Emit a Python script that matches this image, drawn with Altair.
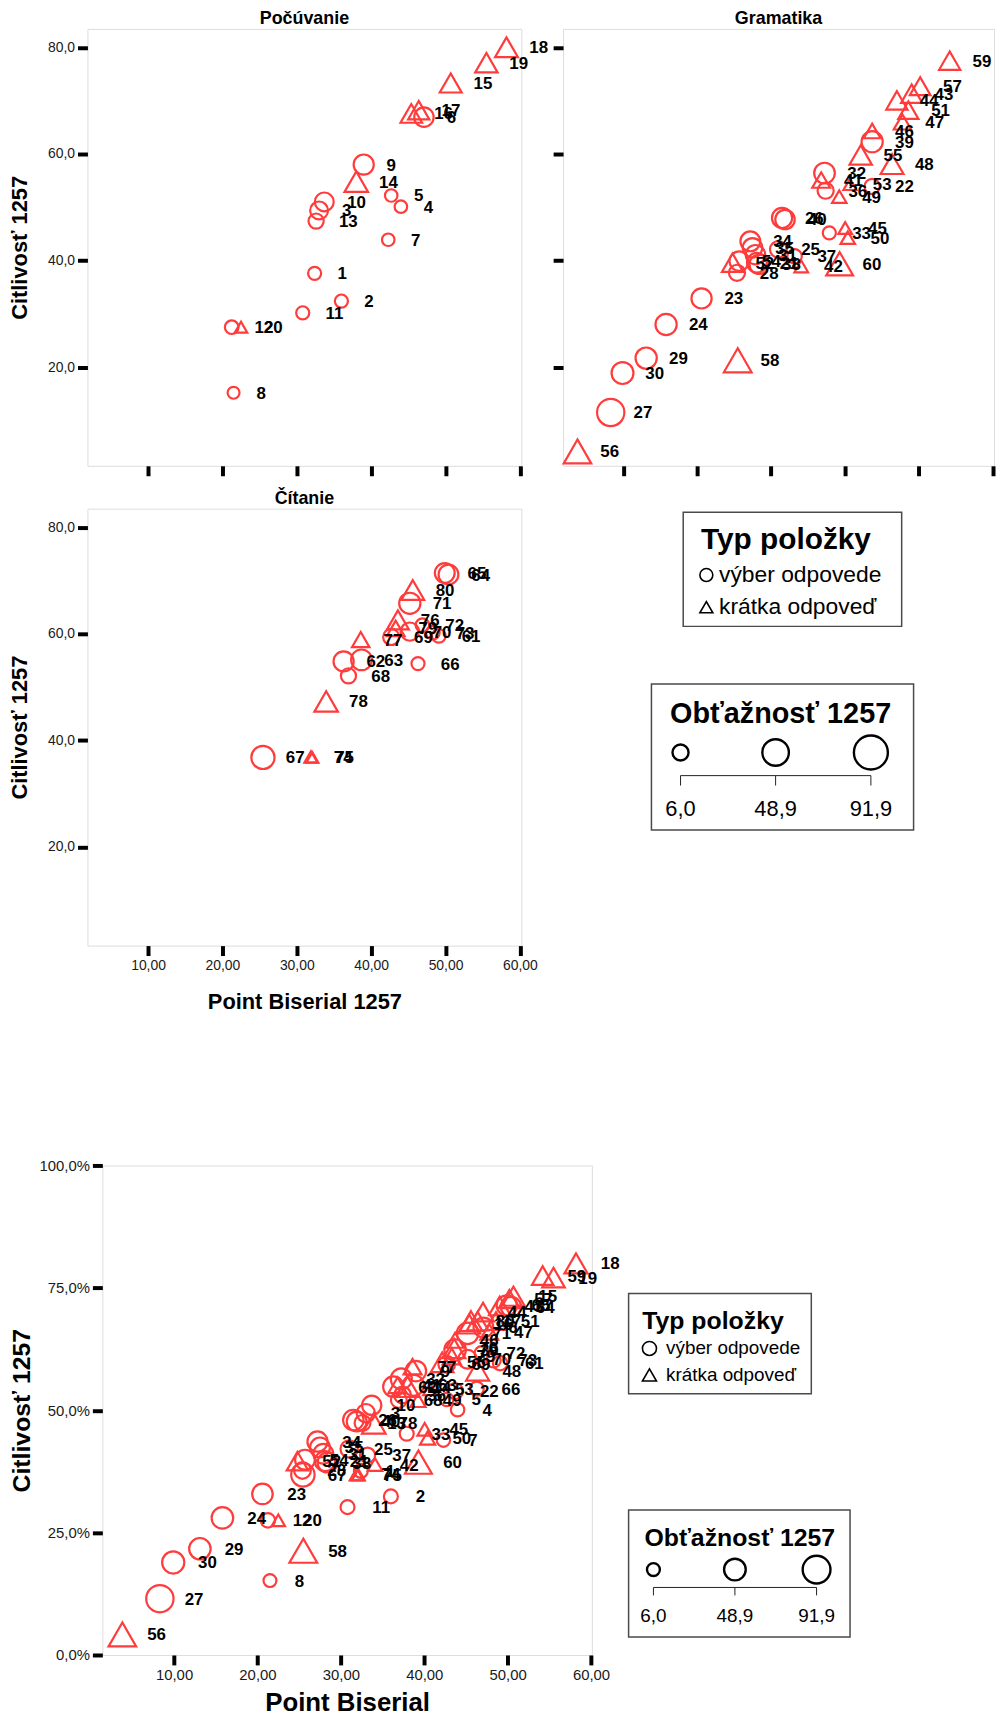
import altair as alt
import pandas as pd

# ---------------- data ----------------
ITEMS = list(range(1, 81))
POINT_BISERIAL = [
    32.4, 36.0, 33.0, 44.0, 42.7, 47.1, 42.3, 21.5, 39.0, 33.7,
    30.8, 21.25, 32.6, 38.0, 50.7, 45.4, 46.4, 58.2, 55.5, 22.5,
    28.1, 43.7, 20.6, 15.8, 31.0, 31.5, 8.3, 25.4, 13.1, 9.9,
    27.9, 37.25, 37.9, 27.2, 27.5, 37.4, 33.2, 28.4, 43.7, 31.9,
    36.8, 34.1, 49.05, 47.05, 40.05, 43.7, 47.8, 46.4, 39.25, 40.4,
    48.6, 24.8, 40.7, 25.7, 42.15, 3.8, 50.2, 25.5, 54.2, 39.3,
    49.1, 36.3, 38.7, 50.4, 49.9, 46.3, 25.45, 36.95, 42.7, 45.2,
    45.2, 46.9, 48.3, 31.9, 32.1, 43.6, 38.6, 33.95, 43.3, 45.6]
CITLIVOST = [
    37.6, 32.4, 49.4, 50.1, 52.2, 66.9, 43.9, 15.2, 58.0, 51.0,
    30.2, 27.5, 47.4, 54.8, 73.3, 67.6, 68.2, 80.0, 77.1, 27.5,
    39.6, 53.9, 32.9, 28.0, 42.1, 48.0, 11.5, 37.7, 21.7, 18.9,
    41.1, 56.4, 45.2, 43.6, 42.4, 53.1, 40.8, 39.3, 62.3, 47.7,
    55.1, 38.9, 71.3, 70.05, 46.1, 64.3, 66.0, 58.1, 52.0, 44.3,
    68.2, 39.6, 54.3, 39.9, 59.8, 4.2, 72.7, 21.3, 77.5, 39.4,
    59.6, 54.8, 55.1, 71.1, 71.4, 54.4, 36.8, 52.1, 59.4, 60.4,
    65.7, 61.6, 60.2, 36.9, 36.8, 62.6, 58.9, 47.3, 61.0, 68.2]
OBTAZNOST = [
    10, 10, 30, 8, 8, 38, 8, 6, 42, 35,
    10, 12, 18, 62, 52, 50, 48, 58, 55, 8,
    40, 18, 42, 48, 25, 42, 88, 22, 48, 52,
    38, 45, 10, 40, 38, 22, 15, 38, 48, 38,
    30, 12, 48, 48, 12, 25, 28, 58, 15, 15,
    42, 48, 10, 38, 55, 90, 45, 91.9, 48, 85,
    12, 42, 45, 40, 40, 10, 60, 18, 22, 32,
    48, 12, 12, 10, 6, 52, 28, 62, 30, 58]
TYPES = ["výber odpovede", "krátka odpoveď"]
C, T = TYPES
TYP = ([C] * 13 + [T] * 7 +
       [C] * 20 +
       [T] * 13 + [C] + [T] * 6 +
       [C] * 13 + [T] * 7)
PANELS = ["Počúvanie", "Gramatika", "Čítanie"]
PANEL = [PANELS[0]] * 20 + [PANELS[1]] * 40 + [PANELS[2]] * 20

SIZE_LEGEND_VALUES = [6.0, 48.9, 91.9]
X_TICKS = [10, 20, 30, 40, 50, 60]
Y_TICKS_TOP = [20, 40, 60, 80]
Y_TICKS_BOTTOM = [0, 25, 50, 75, 100]

Y_TITLE = "Citlivosť 1257"
X_TITLE_TOP = "Point Biserial 1257"
X_TITLE_BOTTOM = "Point Biserial"
TYPE_TITLE = "Typ položky"
SIZE_TITLE = "Obťažnosť 1257"

# ---------------- styling ----------------
FONT = "Liberation Sans"
RED = "#ff3b3b"
FRAME = "#8c8c8c"
BOX = "#4a4a4a"

df = pd.DataFrame({"item": ITEMS, "pb": POINT_BISERIAL, "cit": CITLIVOST,
                   "obt": OBTAZNOST, "typ": TYP, "panel": PANEL})

shape_scale = alt.Scale(domain=TYPES, range=["circle", "triangle-up"])
RES = alt.Resolve(scale=alt.ScaleResolveMap(size="independent"))


def hc(charts, spacing, bounds):
    return alt.HConcatChart(hconcat=charts, spacing=spacing, bounds=bounds, resolve=RES)


def vc(charts, spacing, bounds):
    return alt.VConcatChart(vconcat=charts, spacing=spacing, bounds=bounds, resolve=RES)


def spacer(w, h):
    return (alt.Chart(pd.DataFrame({"s": [0]}))
            .mark_point(opacity=0)
            .encode(x=alt.value(0), y=alt.value(0))
            .properties(width=w, height=h,
                        view=alt.ViewBackground(stroke="transparent")))


def axis(values, labels, fmt, lfs, title_fs, tpad, extent):
    return alt.Axis(values=values, labels=labels, domain=False, grid=False,
                    tickColor="black", tickWidth=4, tickSize=10,
                    labelFont=FONT, labelFontSize=lfs, labelColor="#1a1a1a",
                    labelPadding=3, labelExpr=fmt, labelFlush=False,
                    titleFont=FONT, titleFontSize=title_fs, titleFontWeight="bold",
                    titleColor="black", titlePadding=tpad,
                    minExtent=extent, maxExtent=extent)


FMT_X = "replace(format(datum.value, '.2f'), '.', ',')"
FMT_Y = "replace(format(datum.value, '.1f'), '.', ',')"
FMT_YP = "replace(format(datum.value, '.1f'), '.', ',') + '%'"


def scatter(data_filter, x_dom, y_dom, width, height, xax, yax, xtitle, ytitle,
            size_range, dx, ptitle=None):
    base = alt.Chart(df)
    if data_filter is not None:
        base = base.transform_filter(data_filter)
    x = alt.X("pb:Q", scale=alt.Scale(domain=x_dom, nice=False, zero=False), axis=xax, title=xtitle)
    y = alt.Y("cit:Q", scale=alt.Scale(domain=y_dom, nice=False, zero=False), axis=yax, title=ytitle)
    pts = base.mark_point(filled=False, strokeWidth=2.2, color=RED, opacity=1).encode(
        x=x, y=y,
        shape=alt.Shape("typ:N", scale=shape_scale, legend=None),
        size=alt.Size("obt:Q", scale=alt.Scale(domain=[6, 91.9], range=size_range, zero=False),
                      legend=None),
    )
    txt = base.mark_text(align="left", baseline="middle", dx=dx, dy=1, font=FONT,
                         fontSize=17, fontWeight="bold", color="black").encode(
        x=x, y=y, text="item:N")
    ch = alt.layer(pts, txt).properties(width=width, height=height)
    if ptitle:
        ch = ch.properties(title=alt.TitleParams(text=ptitle, font=FONT, fontSize=18,
                                                 fontWeight="bold", color="black",
                                                 offset=1, anchor="middle"))
    return ch


X_DOM_TOP = [1.85, 60.2]
Y_DOM_TOP = [1.5, 83.45]
TOP_SIZE = [144, 784]

poc = scatter(alt.datum.panel == PANELS[0], X_DOM_TOP, Y_DOM_TOP, 437, 440,
              axis(X_TICKS, False, FMT_X, 14, 22, 18, 10),
              axis(Y_TICKS_TOP, True, FMT_Y, 14, 22, 16, 40),
              None, Y_TITLE, TOP_SIZE, 23, PANELS[0])
gram = scatter(alt.datum.panel == PANELS[1], X_DOM_TOP, Y_DOM_TOP, 434, 440,
               axis(X_TICKS, False, FMT_X, 14, 22, 18, 10),
               axis(Y_TICKS_TOP, False, FMT_Y, 14, 22, 12, 10),
               None, None, TOP_SIZE, 23, PANELS[1])
cit = scatter(alt.datum.panel == PANELS[2], X_DOM_TOP, Y_DOM_TOP, 437, 440,
              axis(X_TICKS, True, FMT_X, 14, 22, 18, 28),
              axis(Y_TICKS_TOP, True, FMT_Y, 14, 22, 16, 40),
              X_TITLE_TOP, Y_TITLE, TOP_SIZE, 23, PANELS[2])

bottom = scatter(None, [1.4, 60.1], [0, 100], 493, 493,
                 axis(X_TICKS, True, FMT_X, 15, 26, 7, 28),
                 axis(Y_TICKS_BOTTOM, True, FMT_YP, 15, 25, 4, 64),
                 X_TITLE_BOTTOM, Y_TITLE, [169, 784], 25)


# ---------------- legends (one layered chart per legend area) ----------------
def box(x0, x1, y0, y1):
    return alt.Chart(pd.DataFrame({"b": [0]})).mark_rect(
        fillOpacity=0, stroke=BOX, strokeWidth=1.5).encode(
        x=alt.value(x0), x2=alt.value(x1), y=alt.value(y0), y2=alt.value(y1))


def title_text(text, x, y, fs):
    return alt.Chart(pd.DataFrame({"t": [text]})).mark_text(
        align="left", baseline="alphabetic", font=FONT, fontSize=fs,
        fontWeight="bold", color="black").encode(x=alt.value(x), y=alt.value(y), text="t:N")


def legend_area(w, h, tb, tt, rows, sym_x, text_x, sym_size, label_fs,
                sb, st, xr, sym_y, srange, br_y, tick_len, lab_y, size_fs):
    layers = []
    # --- Typ položky ---
    layers.append(box(*tb))
    layers.append(title_text(TYPE_TITLE, *tt))
    d = pd.DataFrame({"typ": TYPES})
    y = alt.Y("typ:N", scale=alt.Scale(domain=TYPES, range=rows, padding=0), axis=None)
    layers.append(alt.Chart(d).mark_point(filled=False, color="black", strokeWidth=1.6,
                                          size=sym_size, opacity=1).encode(
        x=alt.value(sym_x), y=y, shape=alt.Shape("typ:N", scale=shape_scale, legend=None)))
    layers.append(alt.Chart(d).mark_text(align="left", baseline="middle", font=FONT,
                                         fontSize=label_fs, color="black").encode(
        x=alt.value(text_x), y=y, text="typ:N"))
    # --- Obťažnosť ---
    layers.append(box(*sb))
    layers.append(title_text(SIZE_TITLE, *st))
    ds = alt.Chart(pd.DataFrame({"v": SIZE_LEGEND_VALUES})).transform_calculate(
        lab="replace(format(datum.v, '.1f'), '.', ',')")
    xs = alt.Scale(domain=[6, 91.9], range=xr, zero=False, nice=False)
    x = alt.X("v:Q", scale=xs, axis=None)
    layers.append(ds.mark_point(filled=False, shape="circle", color="black",
                                strokeWidth=2.4, opacity=1).encode(
        x=x, y=alt.value(sym_y),
        size=alt.Size("v:Q", scale=alt.Scale(domain=[6, 91.9], range=srange, zero=False),
                      legend=None)))
    layers.append(ds.mark_rule(color="#222", strokeWidth=1).encode(
        x=alt.X("min(v):Q", scale=xs, axis=None), x2="max(v):Q", y=alt.value(br_y)))
    layers.append(ds.mark_rule(color="#222", strokeWidth=1).encode(
        x=x, y=alt.value(br_y), y2=alt.value(br_y + tick_len)))
    layers.append(ds.mark_text(align="center", baseline="middle", font=FONT,
                               fontSize=size_fs, color="black").encode(
        x=x, y=alt.value(lab_y), text="lab:N"))
    return alt.layer(*layers).properties(
        width=w, height=h, view=alt.ViewBackground(stroke="transparent"))


legend_top = legend_area(
    356, 326,
    (121, 341, 3.5, 118.5), (139, 40.5, 30), [66.8, 99.2], 144.3, 157, 170, 23,
    (89, 353, 176.5, 323.5), (107.7, 215.5, 29), [118.3, 310], 245.5, [262, 1170],
    268.8, 10, 302.5, 22)

# legend area of the combined chart starts 14px right of the bottom plot frame
legend_bottom = legend_area(
    249, 478,
    (23, 207, 129, 230), (36.7, 164.3, 25), [184.3, 211], 44, 60.7, 200, 19,
    (23, 246, 347, 475), (39, 383.3, 25), [48, 212.3], 407, [169, 784],
    425, 8, 453.3, 19)

# ---------------- layout ----------------
row1 = hc([poc, gram], 42, "flush")
row2 = hc([cit, legend_top], 42, "flush")
row3 = hc([spacer(1, 1), bottom, legend_bottom], 14, "flush")

chart = vc([row1, row2, spacer(1, 120.1), row3], 10.2, "full").properties(
    padding={"top": -5, "left": 0, "right": 0, "bottom": -6}
).configure_view(stroke=FRAME, strokeWidth=1.5).configure(font=FONT)

chart.save("out.html", embed_options={"renderer": "svg", "actions": False})
